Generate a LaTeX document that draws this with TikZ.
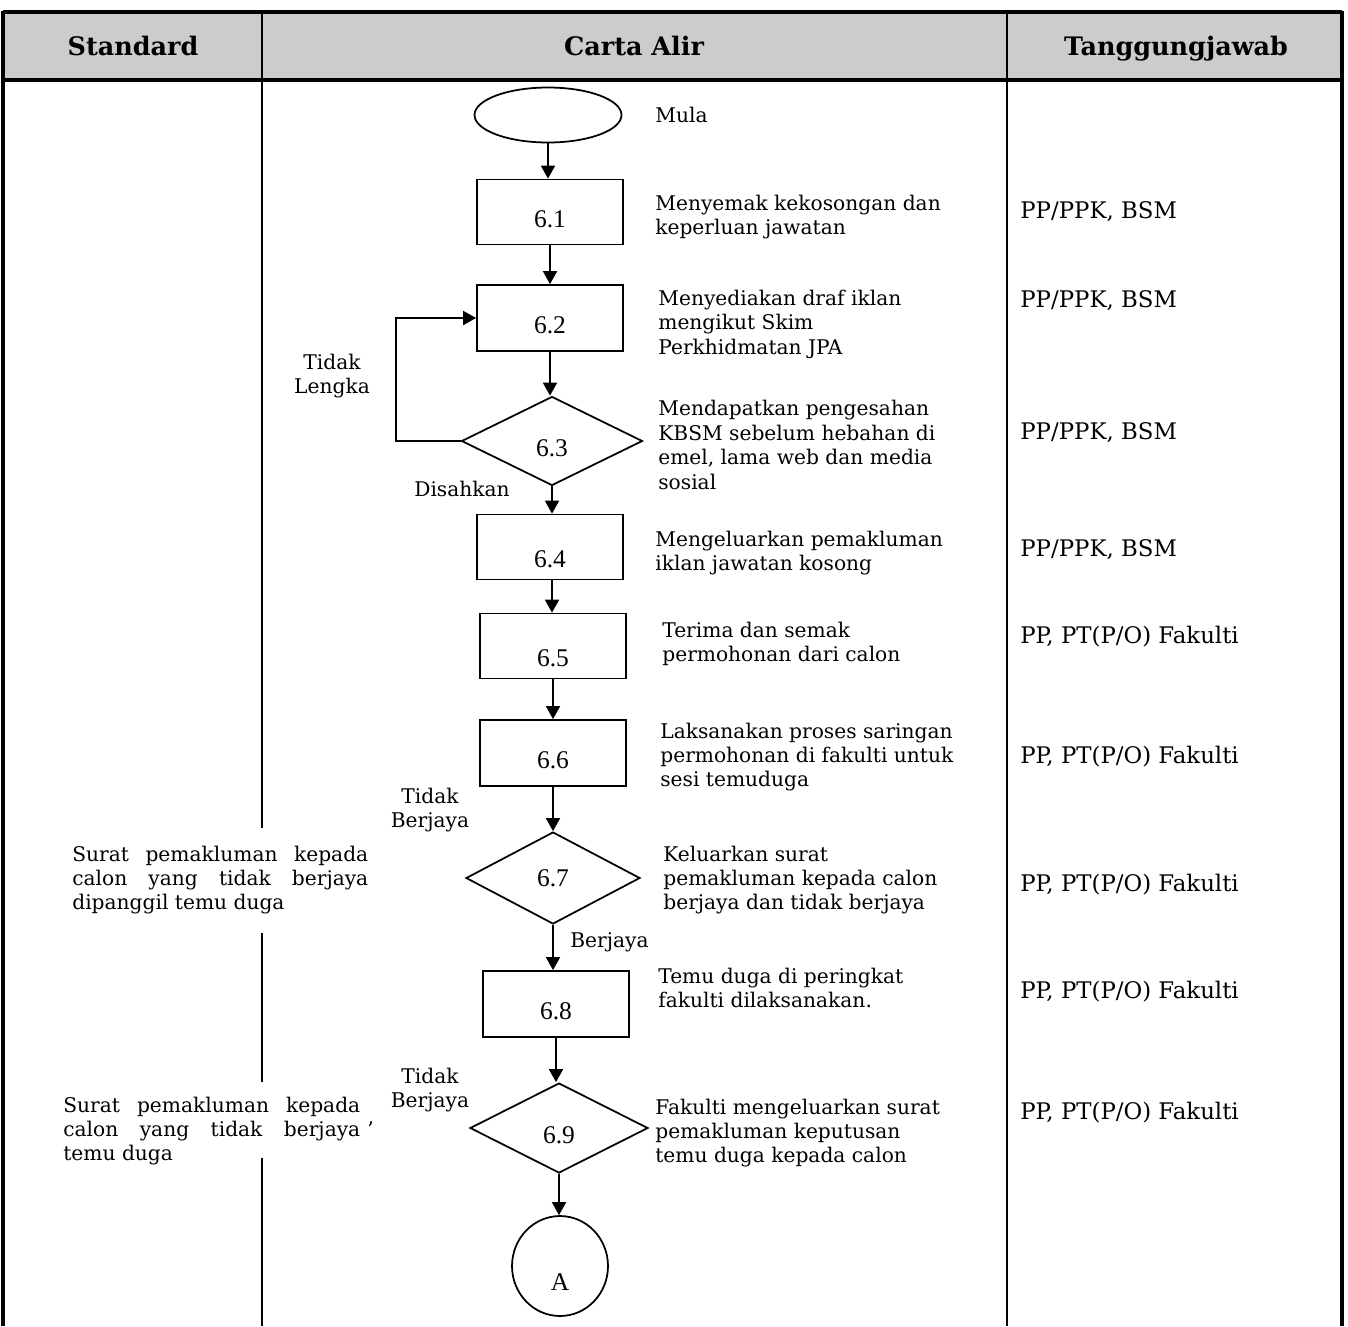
\documentclass[tikz,border=0pt]{standalone}
\usepackage{fontspec}
\setmainfont{DejaVu Serif}
\newfontfamily\numfont{Liberation Serif}
\usepackage{tikz}
\usetikzlibrary{arrows.meta}
\usetikzlibrary{shapes.geometric}
\usetikzlibrary{positioning}

\definecolor{headgray}{RGB}{204,204,204}

\begin{document}
\begin{tikzpicture}[x=0.02cm, y=-0.02cm,
    font=\fontsize{11.5}{13.9}\selectfont,
    frame/.style={line width=1.8pt},
    divider/.style={line width=1.3pt},
    arr/.style={line width=1pt, -{Triangle[length=0.26cm,width=0.28cm]}},
    numlbl/.style={draw=none, minimum size=0pt, inner sep=1pt, font=\numfont\fontsize{14.5}{16}\selectfont, yshift=-4pt},
    head/.style={anchor=base, font=\bfseries\fontsize{14.5}{17}\selectfont},
    desc/.style={anchor=west, align=left, inner sep=0pt},
    resp/.style={anchor=west, inner sep=0pt, font=\fontsize{13}{15}\selectfont},
    branch/.style={align=center, inner sep=0pt}]
	\useasboundingbox (0,0) rectangle (1348,1326);

	% header
	\fill[headgray] (3,12) rectangle (1342,80);
	\node[head] (hstd) at (133,55) {Standard};
	\node[head] (hcarta) at (634,55) {Carta Alir};
	\node[head] (htj) at (1176,55) {Tanggungjawab};

	\draw[frame] (3,12) -- (1342,12);
	\draw[frame] (3,80) -- (1342,80);
	\draw[frame] (3,11) -- (3,1326);
	\draw[frame] (1342,11) -- (1342,1326);
	\draw[divider] (262,12) -- (262,828);
	\draw[divider] (262,933) -- (262,1082);
	\draw[divider] (262,1158) -- (262,1326);
	\draw[divider] (1007,12) -- (1007,1326);

	\begin{scope}[every node/.style={draw, line width=1pt, minimum width=2.92cm, minimum height=1.3cm}]
		\node[ellipse, minimum width=2.94cm, minimum height=1.1cm] (mula) at (548,115) {};
		\node[rectangle, label={[numlbl]center:6.1}] (s61) at (550,212) {};
		\node[rectangle, minimum height=1.32cm, label={[numlbl]center:6.2}] (s62) at (550,318) {};
		\node[diamond, minimum width=3.62cm, minimum height=1.78cm, label={[numlbl]center:6.3}] (s63) at (552,441) {};
		\node[rectangle, label={[numlbl, yshift=-3pt]center:6.4}] (s64) at (550,547) {};
		\node[rectangle, label={[numlbl, yshift=-3pt]center:6.5}] (s65) at (553,646) {};
		\node[rectangle, minimum height=1.32cm, label={[numlbl]center:6.6}] (s66) at (553,753) {};
		\node[diamond, minimum width=3.48cm, minimum height=1.84cm, label={[numlbl, yshift=4pt]center:6.7}] (s67) at (553,878) {};
		\node[rectangle, minimum height=1.32cm, label={[numlbl]center:6.8}] (s68) at (556,1004) {};
		\node[diamond, minimum width=3.56cm, minimum height=1.8cm, label={[numlbl]center:6.9}] (s69) at (559,1128) {};
		\node[ellipse, minimum width=1.92cm, minimum height=2cm, label={[numlbl, yshift=-5pt]center:A}] (A) at (560,1266) {};
	\end{scope}

	\draw[arr] (mula.south) -- (mula.south |- s61.north);
	\draw[arr] (s61.south) -- (s61.south |- s62.north);
	\draw[arr] (s62.south) -- (s62.south |- s63.north);
	\draw[arr] (s63.west) -- ++(-65,0) |- (s62.west);
	\draw[arr] (s63.south) -- (s63.south |- s64.north);
	\draw[arr] (s64.south) ++(2,0) coordinate (c64) -- (c64 |- s65.north);
	\draw[arr] (s65.south) -- (s65.south |- s66.north);
	\draw[arr] (s66.south) -- (s66.south |- s67.north);
	\draw[arr] (s67.south) -- (s67.south |- s68.north);
	\draw[arr] (s68.south) -- (s68.south |- s69.north);
	\draw[arr] (s69.south) -- (s69.south |- A.north);

	% branch labels
	\node[branch] (tlengka) at (332,376) {Tidak\\Lengka};
	\node[branch] (sah) at (462,489) {Disahkan};
	\node[branch] (tb67) at (430,810) {Tidak\\Berjaya};
	\node[anchor=west, inner sep=0pt] (b67) at (570,942) {Berjaya};
	\node[branch] (tb69) at (430,1090) {Tidak\\Berjaya};

	% carta alir
	\node[desc] (dmula) at (655,115) {Mula};
	\node[desc] (d61) at (655,217) {Menyemak kekosongan dan\\keperluan jawatan};
	\node[desc] (d62) at (658,324) {Menyediakan draf iklan\\mengikut Skim\\Perkhidmatan JPA};
	\node[desc] (d63) at (658,445) {Mendapatkan pengesahan\\KBSM sebelum hebahan di\\emel, lama web dan media\\sosial};
	\node[desc] (d64) at (655,553) {Mengeluarkan pemakluman\\iklan jawatan kosong};
	\node[desc] (d65) at (662,644) {Terima dan semak\\permohonan dari calon};
	\node[desc] (d66) at (660,757) {Laksanakan proses saringan\\permohonan di fakulti untuk\\sesi temuduga};
	\node[desc] (d67) at (663,880) {Keluarkan surat\\pemakluman kepada calon\\berjaya dan tidak berjaya};
	\node[desc] (d68) at (658,988) {Temu duga di peringkat\\fakulti dilaksanakan.};
	\node[desc] (d69) at (655,1133) {Fakulti mengeluarkan surat\\pemakluman keputusan\\temu duga kepada calon};

	% standard
	\node[desc] (std67) at (72,880) {\makebox[5.92cm][s]{Surat pemakluman kepada}\\\makebox[5.92cm][s]{calon yang tidak berjaya}\\dipanggil temu duga};
	\node[desc] (std69) at (63,1131) {\makebox[5.94cm][s]{Surat pemakluman kepada}\\\makebox[5.94cm][s]{calon yang tidak berjaya}\hspace{4pt}'\\temu duga};

	% tanggungjawab
	\node[resp] (r61) at (1020,212) {PP/PPK, BSM};
	\node[resp] (r62) at (1020,301) {PP/PPK, BSM};
	\node[resp] (r63) at (1020,433) {PP/PPK, BSM};
	\node[resp] (r64) at (1020,550) {PP/PPK, BSM};
	\node[resp] (r65) at (1020,637) {PP, PT(P/O) Fakulti};
	\node[resp] (r66) at (1020,757) {PP, PT(P/O) Fakulti};
	\node[resp] (r67) at (1020,885) {PP, PT(P/O) Fakulti};
	\node[resp] (r68) at (1020,992) {PP, PT(P/O) Fakulti};
	\node[resp] (r69) at (1020,1113) {PP, PT(P/O) Fakulti};
\end{tikzpicture}
\end{document}
